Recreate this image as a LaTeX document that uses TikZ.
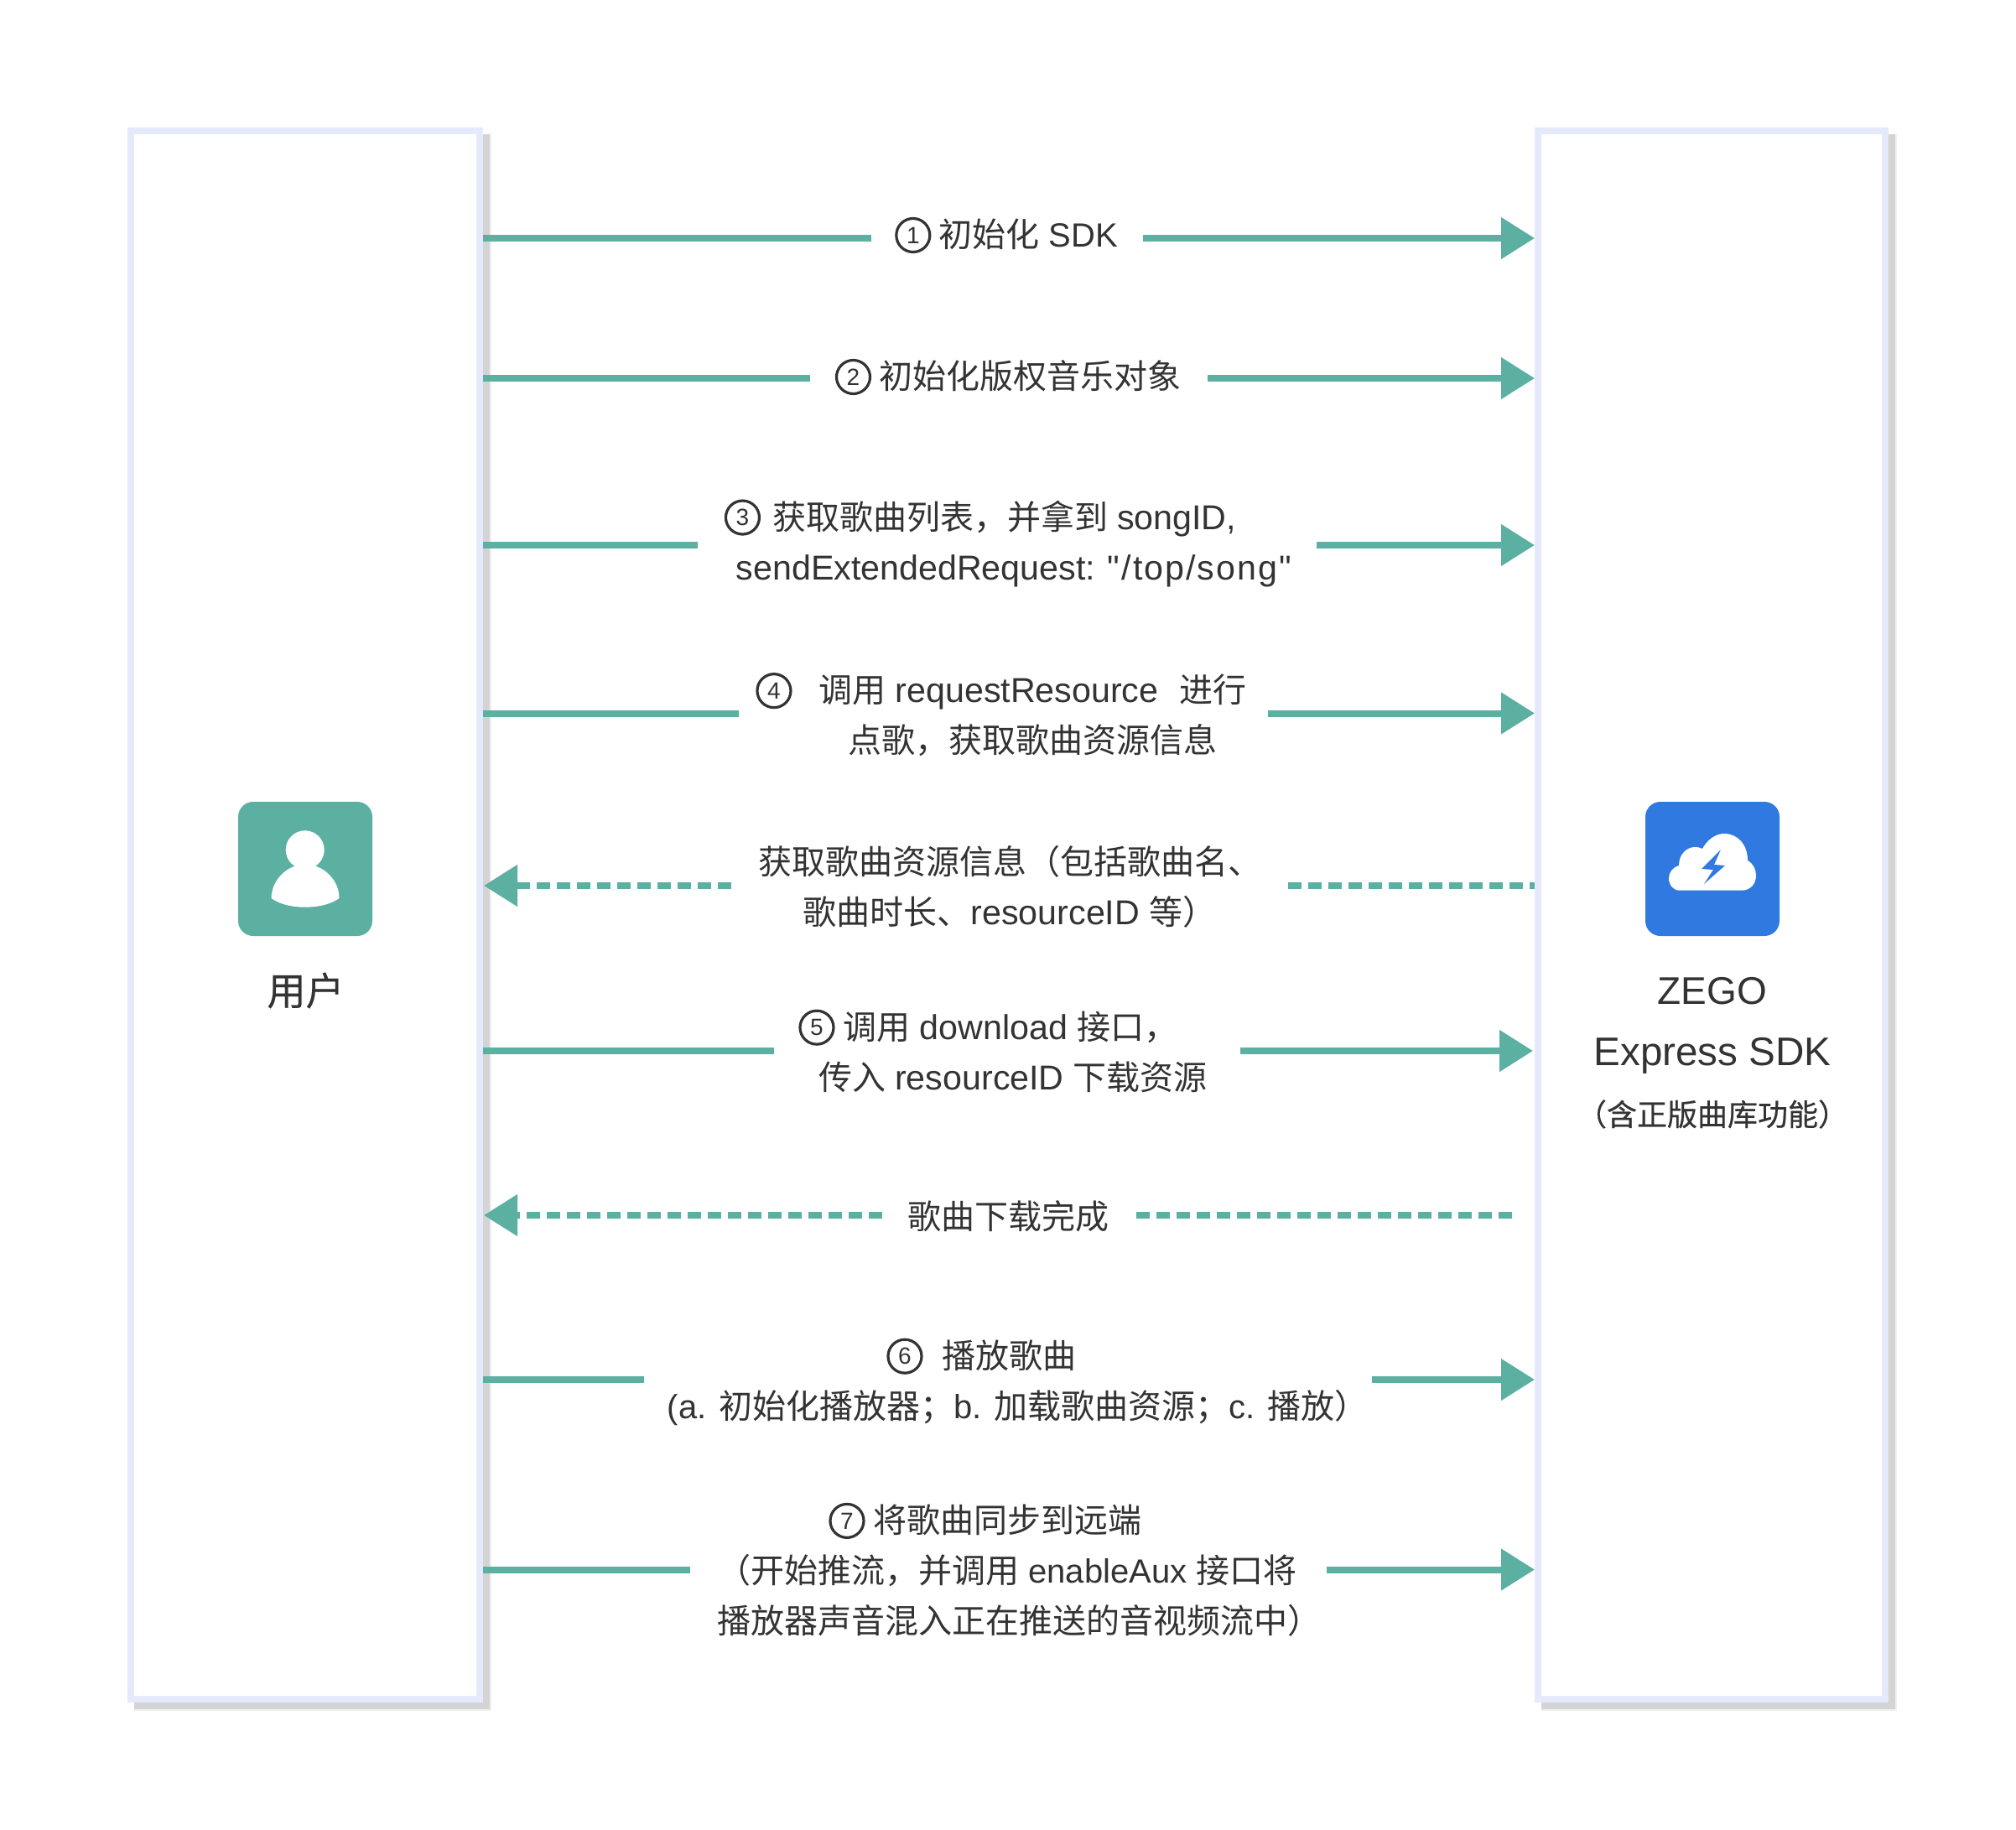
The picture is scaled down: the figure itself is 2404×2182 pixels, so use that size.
\documentclass[tikz,border=0pt]{standalone}
\usepackage{fontspec}
\setmainfont{Liberation Sans}
\newfontfamily\plainlatin{Liberation Sans}[LetterSpace=5]
\newfontfamily\cjk{Noto Sans CJK SC}
\newfontfamily\cjkstrong{Noto Sans CJK SC}[FakeBold=0.5]
\usetikzlibrary{arrows.meta,shadows,positioning}
\definecolor{flowgreen}{HTML}{5BB0A1}
\definecolor{laneblue}{HTML}{E4EAFB}
\definecolor{sdkblue}{HTML}{2F79E0}
\definecolor{inktext}{HTML}{333333}
\newcommand{\zh}[1]{{\cjk #1}}
\newcommand{\zhs}[1]{{\cjkstrong #1}}
\newcommand{\lat}[1]{{\fontsize{20.6}{30}\selectfont #1}}
\newcommand{\stepnum}[1]{\tikz[baseline={([yshift=-7pt]num#1.center)}]
  \node[circle,draw=inktext,line width=1.6pt,minimum size=20pt,inner sep=0pt,font=\fontsize{14}{14}\selectfont] (num#1) {#1};}
\tikzset{
  x=0.5pt,y=-0.5pt,
  lane/.style={draw=laneblue,line width=4pt,fill=white,minimum width=208pt,minimum height=935pt,inner sep=0pt,
    general shadow={fill=black!6,draw=black!6,line width=5pt,shadow xshift=4.5pt,shadow yshift=-4.5pt},
    general shadow={fill=black!17,draw=black!17,line width=4pt,shadow xshift=4pt,shadow yshift=-4pt}},
  iconbox/.style={rounded corners=9pt,minimum size=80pt,inner sep=0pt},
  caption/.style={text=inktext,font=\fontsize{23}{30}\selectfont,align=center},
  steplabel/.style={text=inktext,font=\fontsize{20}{30}\selectfont,align=center,inner sep=0pt},
  flow/.style={draw=flowgreen,line width=4pt},
  flowtip/.style={flow,-{Triangle[length=20pt,width=24pt]}},
  flowdash/.style={flow,dash pattern=on 8pt off 4pt},
  backtip/.style={flowtip,flowdash,shorten >=0.5pt},
}
\begin{document}
\begin{tikzpicture}
  \useasboundingbox (0,0) rectangle (2404,2182);
  \node[lane] (user) at (364,1091) {};
  \node[lane,minimum width=207pt] (sdk) at (2041,1091) {};
  % icons
  \node[iconbox,fill=flowgreen] (usericon) at (364,1036) {};
  \node[iconbox,fill=sdkblue] (sdkicon) at (2042,1036) {};
  \fill[white] (363.7,1013.3) circle (23);
  \fill[white] (323.5,1071) .. controls (324,1053) and (336,1038) .. (352,1032.5) -- (376,1032.5)
    .. controls (392,1038) and (404.5,1053) .. (404.5,1071)
    .. controls (395,1078) and (380,1081.7) .. (364,1081.7)
    .. controls (348,1081.7) and (333,1078) .. (323.5,1071) -- cycle;
  \fill[white] (2003,1061.7) .. controls (1995,1061.7) and (1990,1055) .. (1990,1047)
    .. controls (1990,1040) and (1995,1034) .. (2002,1032)
    .. controls (2002,1018) and (2012,1010) .. (2021,1010)
    .. controls (2025,1010) and (2028,1011) .. (2030,1012)
    .. controls (2036,1001) and (2046,994) .. (2056,994)
    .. controls (2072,994) and (2084,1007) .. (2084,1026)
    .. controls (2091,1030) and (2094,1037) .. (2094,1044)
    .. controls (2094,1054) and (2087,1061.7) .. (2077,1061.7) -- cycle;
  \fill[sdkblue] (2052,1013) -- (2029,1036) -- (2043,1037) -- (2032,1054) -- (2057,1032) -- (2044,1031) -- cycle;
  % captions
  \node[caption] (usertext) at (364.5,1181) {\zhs{用户}};
  \node[caption] (sdktext) at (2042,1181.5) {ZEGO};
  \node[caption,font=\fontsize{23.8}{30}\selectfont] (sdktext2) at (2042,1258.5) {Express SDK};
  \node[caption,font=\fontsize{18}{24}\selectfont] (sdktext3) at (2042,1328.5) {\zhs{（含正版曲库功能）}};
  % labels
  \node[steplabel] (lbl1) at (1200,280.5) {\stepnum{1}\hspace{4.5pt}\zh{初始化} SDK};
  \node[steplabel] (lbl2) at (1202,449.5) {\stepnum{2}\hspace{4.5pt}\zh{初始化版权音乐对象}};
  \node[steplabel] (lbl3) at (1209,647.5) {\stepnum{3}\hspace{7pt}\zh{获取歌曲列表，并拿到} \lat{songID,}\hspace*{40pt}\\
    \lat{sendExtendedRequest:} {\lat{\plainlatin "/top/song"}}};
  \node[steplabel] (lbl4) at (1194,852) {\stepnum{4}\hspace{16pt}\zh{调用} \lat{requestResource} \ \kern1.5pt\zh{进行}\\
    \hspace*{37pt}\zh{点歌，获取歌曲资源信息}};
  \node[steplabel] (lbl5) at (1204,1057) {\zh{获取歌曲资源信息（包括歌曲名、}\\\zh{歌曲时长、}\lat{resourceID} \zh{等）}};
  \node[steplabel] (lbl6) at (1208,1253) {\stepnum{5}\hspace{5pt}\zh{调用} \lat{download} \zh{接口，}\hspace*{29.7pt}\\
    \zh{传入} \lat{resourceID} \zh{下载资源}};
  \node[steplabel] (lbl7) at (1202,1450) {\zh{歌曲下载完成}};
  \node[steplabel] (lbl8) at (1213.5,1647.5) {\stepnum{6}\hspace{11.5pt}\zh{播放歌曲}\hspace*{43pt}\\
    (a. \zh{初始化播放器；}b. \zh{加载歌曲资源；}c. \zh{播放）}};
  \node[steplabel] (lbl9) at (1208,1871.5) {\stepnum{7}\hspace{5pt}\zh{将歌曲同步到远端}\hspace*{33pt}\\
    \zh{（开始推流，并调用} enableAux \zh{接口将}\kern7pt\\
    \hspace*{7.5pt}\zh{播放器声音混入正在推送的音视频流中）}};
  % connectors
  \foreach \n/\yy/\xa/\xb/\tipgap in {1/284/1039/1363/0, 2/451/966/1440/0, 3/650/832/1570/0, 4/850.5/881/1512/0,
      6/1253/923/1479/1, 8/1645/768/1636/0, 9/1871.5/823/1582/0} {
    \coordinate (gap\n a) at (\xa,\yy);
    \coordinate (gap\n b) at (\xb,\yy);
    \draw[flow] (user.east |- gap\n a) -- (gap\n a);
    \draw[flowtip,shorten >=\tipgap pt] (gap\n b) -- (sdk.west |- gap\n b);
  }
  \foreach \n/\yy/\xa/\xb/\endgap in {5/1056/872/1536/0, 7/1449/1052/1355/13.5} {
    \coordinate (gap\n a) at (\xa,\yy);
    \coordinate (gap\n b) at (\xb,\yy);
    \draw[backtip] (gap\n a) -- (user.east |- gap\n a);
    \draw[flowdash,shorten >=\endgap pt] (gap\n b) -- (sdk.west |- gap\n b);
  }
\end{tikzpicture}
\end{document}
